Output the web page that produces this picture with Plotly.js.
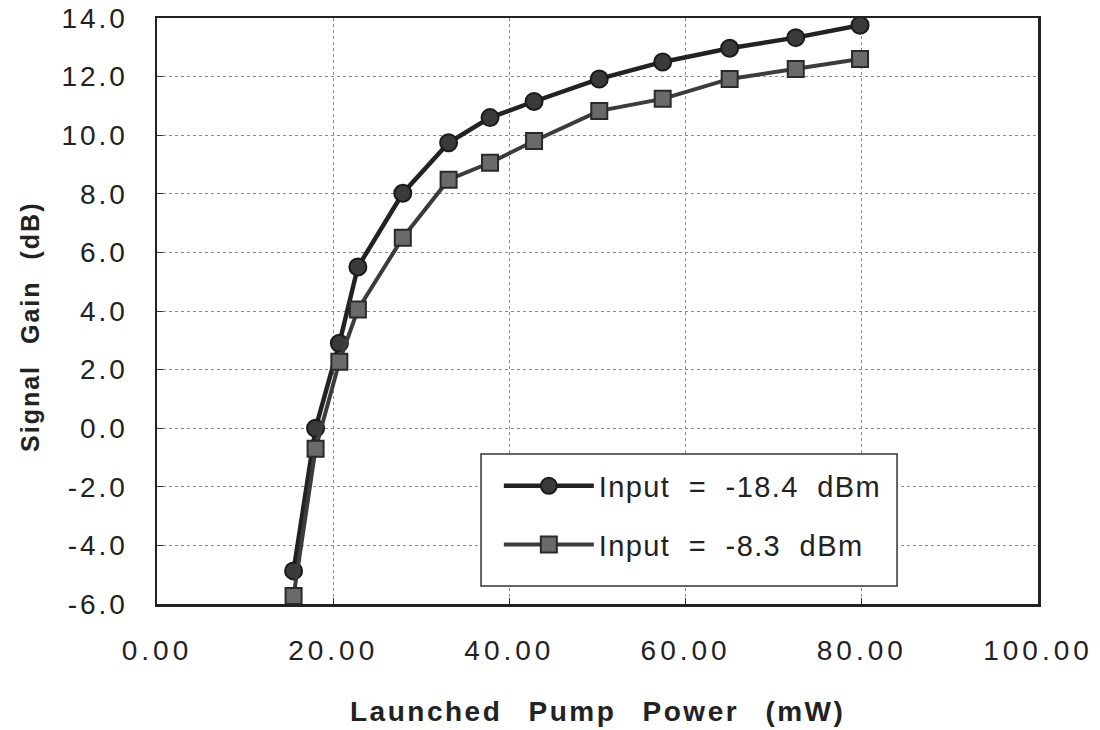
<!DOCTYPE html>
<html>
<head>
<meta charset="utf-8">
<script src="https://cdn.plot.ly/plotly-3.0.1.min.js"></script>
<style>
  html, body { margin: 0; padding: 0; background: #fff; }
  #chart { width: 1100px; height: 730px; }
  .xtick text { letter-spacing: 4px; }
  .ytick text { letter-spacing: 3px; }
  .legendtext { letter-spacing: 1.4px; word-spacing: 9px; }
</style>
</head>
<body>
<div id="chart"></div>
<script>
// Launched pump power (mW)
const pumpPower = [15.5, 18.0, 20.7, 22.8, 27.9, 33.1, 37.8, 42.8, 50.2, 57.4, 65.0, 72.5, 79.8];
// Signal gain (dB), input = -18.4 dBm
const gainLowInput = [-4.87, 0.0, 2.9, 5.5, 8.02, 9.74, 10.6, 11.15, 11.92, 12.5, 12.97, 13.33, 13.75];
// Signal gain (dB), input = -8.3 dBm
const gainHighInput = [-5.73, -0.7, 2.27, 4.05, 6.5, 8.48, 9.06, 9.8, 10.83, 11.24, 11.92, 12.26, 12.6];

const seriesNames = ["Input = -18.4 dBm", "Input = -8.3 dBm"];
const xTickVals = [0, 20, 40, 60, 80, 100];
const xTickLabels = ["0.00", "20.00", "40.00", "60.00", "80.00", "100.00"];
const yTickVals = [-6, -4, -2, 0, 2, 4, 6, 8, 10, 12, 14];
const yTickLabels = ["-6.0", "-4.0", "-2.0", "0.0", "2.0", "4.0", "6.0", "8.0", "10.0", "12.0", "14.0"];
const xTitle = "Launched Pump Power (mW)";
const yTitle = "Signal Gain (dB)";

const traces = [
  {
    x: pumpPower, y: gainLowInput, name: seriesNames[0],
    type: "scatter", mode: "lines+markers",
    line: { color: "#222222", width: 4.5 },
    marker: { symbol: "circle", size: 17, color: "#3a3a3a", line: { color: "#1a1a1a", width: 2 } },
    legendgroup: "a"
  },
  {
    x: pumpPower, y: gainHighInput, name: seriesNames[1],
    type: "scatter", mode: "lines+markers",
    line: { color: "#3c3c3c", width: 4 },
    marker: { symbol: "square", size: 16, color: "#6a6a6a", line: { color: "#2a2a2a", width: 2 } },
    legendgroup: "b"
  }
];

const layout = {
  width: 1100, height: 730,
  margin: { l: 157, r: 62, t: 18, b: 126 },
  paper_bgcolor: "#ffffff", plot_bgcolor: "#ffffff",
  font: { family: "Liberation Sans, Arial, sans-serif", color: "#222222" },
  showlegend: true,
  legend: {
    x: 0.388, y: 0.245, xanchor: "left", yanchor: "top",
    bgcolor: "rgba(0,0,0,0)", borderwidth: 0,
    font: { size: 29, color: "#222222" },
    itemwidth: 90,
    traceorder: "grouped", tracegroupgap: 18
  },
  shapes: [
    {
      type: "rect", xref: "paper", yref: "paper",
      x0: 0.3678, x1: 0.840, y0: 0.0307, y1: 0.256,
      line: { color: "#333333", width: 1.5 }, fillcolor: "#ffffff", layer: "above"
    }
  ],
  annotations: [
    {
      text: "<b>" + xTitle + "</b>", xref: "paper", yref: "paper",
      x: 0.5, y: -0.184, xanchor: "center", yanchor: "middle", showarrow: false,
      font: { size: 28, color: "#222222" }
    },
    {
      text: "<b>" + yTitle + "</b>", xref: "paper", yref: "paper",
      x: -0.144, y: 0.473, xanchor: "center", yanchor: "middle", showarrow: false,
      textangle: -90, font: { size: 25, color: "#222222" }
    }
  ],
  xaxis: {
    range: [0, 100], tickvals: xTickVals, ticktext: xTickLabels,
    showgrid: true, gridcolor: "#8a8a8a", griddash: "dot", gridwidth: 1,
    showline: true, linecolor: "#222222", linewidth: 2.5, mirror: true,
    ticks: "inside", ticklen: 6, tickcolor: "#333333",
    tickfont: { size: 28, color: "#222222" },
    ticklabelstandoff: 20,
    zeroline: false
  },
  yaxis: {
    range: [-6, 14], tickvals: yTickVals, ticktext: yTickLabels,
    showgrid: true, gridcolor: "#8a8a8a", griddash: "dot", gridwidth: 1,
    showline: true, linecolor: "#222222", linewidth: 2.5, mirror: true,
    ticks: "inside", ticklen: 6, tickcolor: "#333333",
    tickfont: { size: 28, color: "#222222" },
    ticklabelstandoff: 21,
    zeroline: false
  }
};

Plotly.newPlot("chart", traces, layout, { displayModeBar: false, staticPlot: true }).then(function () {
  // widen the spacing of the axis titles, as in the original typesetting
  const anns = document.querySelectorAll(".annotation-text");
  if (anns[0]) { anns[0].style.letterSpacing = "2.5px"; anns[0].style.wordSpacing = "16px"; }
  if (anns[1]) { anns[1].style.letterSpacing = "2px"; anns[1].style.wordSpacing = "12px"; }
});
</script>
</body>
</html>
